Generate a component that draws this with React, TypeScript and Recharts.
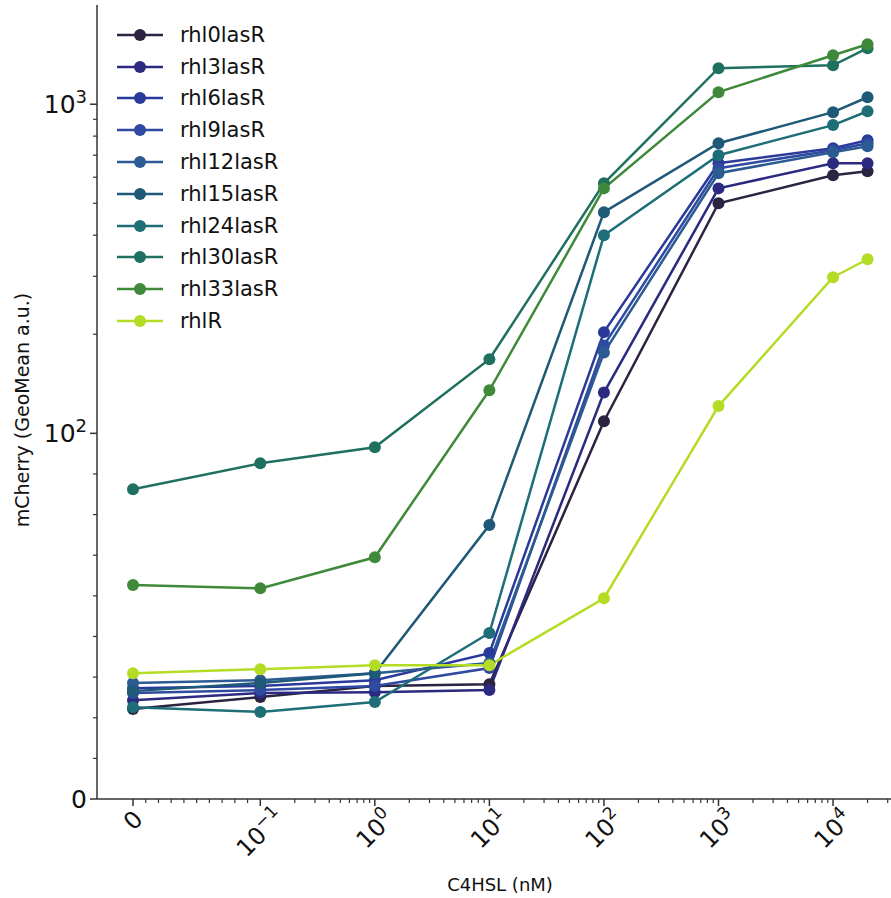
import { LineChart, Line, XAxis, YAxis, Label } from "recharts";

// C4HSL concentration (nM)
const concentrations = [0, 0.1, 1, 10, 100, 1000, 10000, 20000];

// mCherry geomean per strain
const rhl0lasR = [24.6, 27.9, 30.9, 31.4, 108.8, 500, 608, 626];
const rhl3lasR = [27.0, 29.0, 29.2, 29.8, 133, 555, 662, 662];
const rhl6lasR = [30.3, 30.9, 32.5, 39.9, 203, 662, 735, 777];
const rhl9lasR = [29.0, 29.8, 30.9, 35.8, 185, 639, 725, 761];
const rhl12lasR = [31.7, 32.5, 34.4, 37.2, 176, 617, 715, 745];
const rhl15lasR = [29.5, 31.7, 34.4, 74.9, 470, 761, 946, 1050];
const rhl24lasR = [25.1, 23.8, 26.5, 45.4, 400, 700, 864, 952];
const rhl30lasR = [84.7, 91.8, 96.2, 167.9, 575, 1287, 1313, 1480];
const rhl33lasR = [58.5, 57.6, 66.1, 135.1, 555, 1088, 1409, 1522];
const rhlR = [34.4, 35.5, 36.6, 36.6, 54.9, 121, 298, 338];

const seriesNames = ["rhl0lasR", "rhl3lasR", "rhl6lasR", "rhl9lasR", "rhl12lasR", "rhl15lasR", "rhl24lasR", "rhl30lasR", "rhl33lasR", "rhlR"];
const seriesValues = [rhl0lasR, rhl3lasR, rhl6lasR, rhl9lasR, rhl12lasR, rhl15lasR, rhl24lasR, rhl30lasR, rhl33lasR, rhlR];
const seriesColors = ["#2b2340", "#2b2a80", "#2a3a9a", "#2f4aa0", "#2c5a92", "#1e5a78", "#1e6e78", "#207060", "#3f8a3a", "#b5dc24"];

// tick labels
const xMajor = [0, 0.1, 1, 10, 100, 1000, 10000];
const xMajorLabels: [string, string][] = [["0", ""], ["10", "\u22121"], ["10", "0"], ["10", "1"], ["10", "2"], ["10", "3"], ["10", "4"]];
const yMajor = [0, 100, 1000];
const yMajorLabels: [string, string][] = [["0", ""], ["10", "2"], ["10", "3"]];

const X_THRESH = 0.1;
const Y_THRESH = 100;
const LINSCALE = 1 / (1 - 1 / 10);
const symlog = (v: number, thresh: number) =>
  v <= thresh ? (v / thresh) * LINSCALE : LINSCALE + Math.log10(v / thresh);

const XMIN = -0.3143;
const XMAX = 6.617;
const YMAX = 2.4126;

const rows = concentrations.map((c, i) => {
  const row: Record<string, number> = { tx: symlog(c, X_THRESH) };
  seriesNames.forEach((n, j) => {
    row[n] = symlog(seriesValues[j][i], Y_THRESH);
  });
  return row;
});

const xMinor: number[] = [];
for (let k = 1; k <= 9; k++) xMinor.push(symlog(k / 100, X_THRESH));
for (let e = -1; e <= 4; e++) for (let m = 2; m <= 9; m++) xMinor.push(symlog(m * Math.pow(10, e), X_THRESH));
const xMajorT = xMajor.map((v) => symlog(v, X_THRESH));
const xTicks = [...xMajorT, ...xMinor.filter((t) => t < XMAX)].sort((a, b) => a - b);

const yMinor: number[] = [];
for (let k = 1; k <= 8; k++) yMinor.push(symlog((k * 100) / 9, Y_THRESH));
for (let e = 2; e <= 3; e++) for (let m = 2; m <= 9; m++) yMinor.push(symlog(m * Math.pow(10, e), Y_THRESH));
const yMajorT = yMajor.map((v) => symlog(v, Y_THRESH));
const yTicks = [...yMajorT, ...yMinor.filter((t) => t < YMAX - 0.01)].sort((a, b) => a - b);

const FONT = "DejaVu Sans";
const AXIS = "#333";

const findMajor = (list: number[], t: number) => list.findIndex((m) => Math.abs(m - t) < 1e-6);

const XTick = (props: any) => {
  const { x, y, payload } = props;
  const idx = findMajor(xMajorT, payload.value);
  if (idx < 0) return <line x1={x} x2={x} y1={y} y2={y + 4} stroke={AXIS} strokeWidth={1.2} />;
  const [base, sup] = xMajorLabels[idx];
  const f = 24;
  const w = base.length * 0.636 * f + sup.length * 0.6 * 0.7 * f;
  const side = (w + 0.8 * f) / Math.SQRT2;
  const cy = y + 9 + side / 2;
  return (
    <g>
      <line x1={x} x2={x} y1={y} y2={y + 7} stroke={AXIS} strokeWidth={1.5} />
      <g transform={`translate(${x},${cy}) rotate(-45)`}>
        <text x={0} y={0} dy="0.35em" textAnchor="middle" fontFamily={FONT} fontSize={f} fill="#111">
          {base}
          {sup && (
            <tspan dy={-10} fontSize={17}>
              {sup}
            </tspan>
          )}
        </text>
      </g>
    </g>
  );
};

const YTick = (props: any) => {
  const { x, y, payload } = props;
  const idx = findMajor(yMajorT, payload.value);
  if (idx < 0) return <line x1={x} x2={x - 4} y1={y} y2={y} stroke={AXIS} strokeWidth={1.2} />;
  const [base, sup] = yMajorLabels[idx];
  return (
    <g>
      <line x1={x} x2={x - 7} y1={y} y2={y} stroke={AXIS} strokeWidth={1.5} />
      <text x={x - 10} y={y} dy="0.35em" textAnchor="end" fontFamily={FONT} fontSize={25} fill="#111">
        {base}
        {sup && (
          <tspan dy={-10} fontSize={18}>
            {sup}
          </tspan>
        )}
      </text>
    </g>
  );
};

const LegendBox = () => (
  <div style={{ position: "absolute", left: 115, top: 19, fontFamily: FONT, fontSize: 21, color: "#111" }}>
    {seriesNames.map((n, i) => (
      <div key={n} style={{ display: "flex", alignItems: "center", height: 31.8 }}>
        <svg width={50} height={20} style={{ marginRight: 15 }}>
          <line x1={2} x2={48} y1={10} y2={10} stroke={seriesColors[i]} strokeWidth={2.5} />
          <circle cx={25} cy={10} r={6} fill={seriesColors[i]} />
        </svg>
        <span>{n}</span>
      </div>
    ))}
  </div>
);

export default function App() {
  return (
    <div style={{ position: "absolute", left: 0, top: 0, width: 891, height: 898, background: "#fff" }}>
      <LineChart width={891} height={898} data={rows} margin={{ top: 5, right: 0, bottom: 0, left: 0 }}>
        <XAxis
          dataKey="tx"
          type="number"
          domain={[XMIN, XMAX]}
          allowDataOverflow
          ticks={xTicks}
          interval={0}
          tickLine={false}
          tickSize={0}
          tickMargin={0}
          tick={XTick}
          height={99}
          stroke={AXIS}
          strokeWidth={1.5}
        >
          <Label
            content={() => (
              <text x={500} y={885} dy="0.35em" textAnchor="middle" fontFamily={FONT} fontSize={18} fill="#111">
                C4HSL (nM)
              </text>
            )}
          />
        </XAxis>
        <YAxis
          type="number"
          domain={[0, YMAX]}
          allowDataOverflow
          ticks={yTicks}
          interval={0}
          tickLine={false}
          tickSize={0}
          tickMargin={0}
          tick={YTick}
          width={97}
          stroke={AXIS}
          strokeWidth={1.5}
        >
          <Label
            content={() => (
              <text
                x={22}
                y={410}
                dy="0.35em"
                textAnchor="middle"
                transform="rotate(-90 22 410)"
                fontFamily={FONT}
                fontSize={19}
                fill="#111"
              >
                mCherry (GeoMean a.u.)
              </text>
            )}
          />
        </YAxis>
        {seriesNames.map((n, i) => (
          <Line
            key={n}
            dataKey={n}
            type="linear"
            stroke={seriesColors[i]}
            strokeWidth={2.5}
            dot={{ r: 6, fill: seriesColors[i], stroke: seriesColors[i], strokeWidth: 0 }}
            activeDot={false}
            isAnimationActive={false}
          />
        ))}
      </LineChart>
      <LegendBox />
    </div>
  );
}
